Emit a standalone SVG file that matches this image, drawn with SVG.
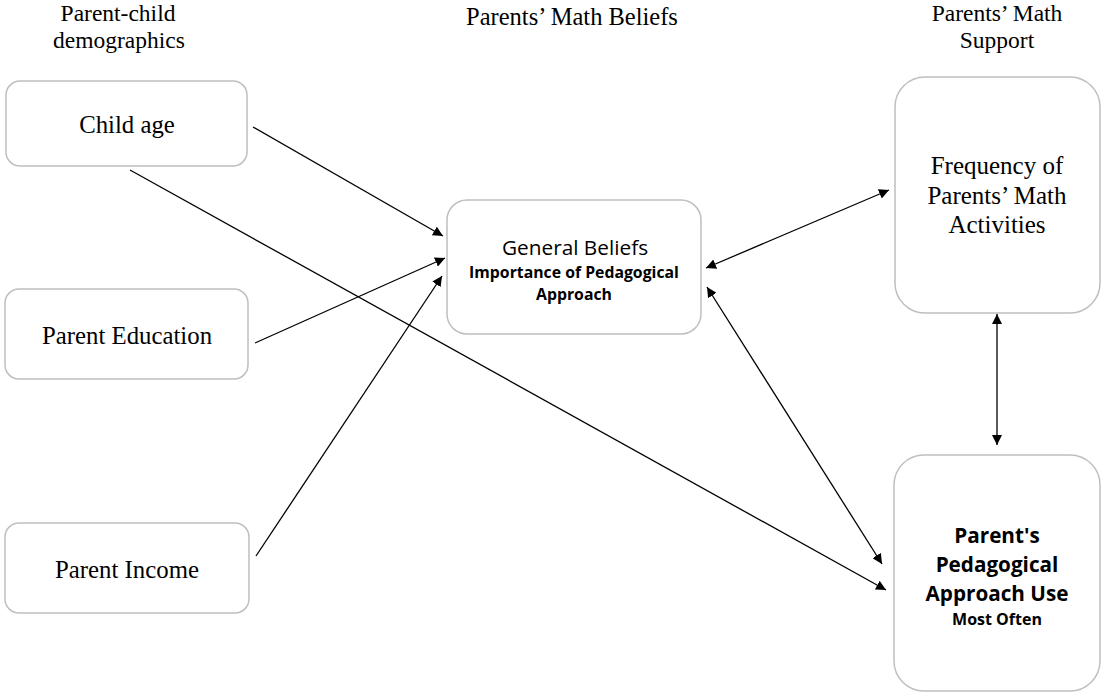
<svg xmlns="http://www.w3.org/2000/svg" width="1102" height="698" viewBox="0 0 1102 698">
<style>
.box{fill:#fff;stroke:#bfbfbf;stroke-width:1.5}
.serif{font-family:"Liberation Serif","Times New Roman",serif;fill:#000;text-anchor:middle}
.sans{font-family:"Open Sans","Liberation Sans",sans-serif;fill:#000;text-anchor:middle}
.b{font-weight:bold}
.c{stroke:#000;stroke-width:1.3;fill:none}
.t{font-size:23.5px}
</style>
<defs>
<marker id="ah" viewBox="0 0 10 10" refX="10" refY="5" markerWidth="10" markerHeight="10" markerUnits="userSpaceOnUse" orient="auto-start-reverse">
<path d="M0,0 L10,5 L0,10 z" fill="#000"/>
</marker>
</defs>
<rect width="1102" height="698" fill="#fff"/>
<g id="titles">
<text class="serif t" x="118" y="21">Parent-child</text>
<text class="serif t" x="119" y="48">demographics</text>
<text class="serif" font-size="24.5" x="572" y="25">Parents’ Math Beliefs</text>
<text class="serif t" x="997" y="21">Parents’ Math</text>
<text class="serif t" x="997" y="48">Support</text>
</g>
<g id="child-age">
<rect class="box" x="6" y="81" width="241" height="85" rx="14"/>
<text class="serif" font-size="24.8" x="127" y="133">Child age</text>
</g>
<g id="parent-education">
<rect class="box" x="5" y="289" width="243" height="90" rx="14"/>
<text class="serif" font-size="24.8" x="127" y="344">Parent Education</text>
</g>
<g id="parent-income">
<rect class="box" x="5" y="523" width="244" height="90" rx="14"/>
<text class="serif" font-size="24.8" x="127" y="578">Parent Income</text>
</g>
<g id="general-beliefs">
<rect class="box" x="447" y="200" width="254" height="134" rx="20"/>
<text class="sans" font-size="20.8" x="575" y="255">General Beliefs</text>
<text class="sans b" font-size="15.8" x="574" y="278">Importance of Pedagogical</text>
<text class="sans b" font-size="15.8" x="574" y="300">Approach</text>
</g>
<g id="frequency">
<rect class="box" x="895" y="77" width="205" height="236" rx="30"/>
<text class="serif" font-size="25" x="997" y="174">Frequency of</text>
<text class="serif" font-size="25" x="997" y="204">Parents’ Math</text>
<text class="serif" font-size="25" x="997" y="233">Activities</text>
</g>
<g id="pedagogical-approach">
<rect class="box" x="894" y="455" width="206" height="236" rx="30"/>
<text class="sans b" font-size="20.7" x="997" y="543">Parent's</text>
<text class="sans b" font-size="20.7" x="997" y="572">Pedagogical</text>
<text class="sans b" font-size="20.7" x="997" y="601">Approach Use</text>
<text class="sans b" font-size="16" x="997" y="625">Most Often</text>
</g>
<g id="connectors">
<line class="c" x1="253" y1="127" x2="443" y2="236" marker-end="url(#ah)"/>
<line class="c" x1="255" y1="343" x2="445" y2="258" marker-end="url(#ah)"/>
<line class="c" x1="256" y1="556" x2="442" y2="276" marker-end="url(#ah)"/>
<line class="c" x1="130" y1="170" x2="886" y2="590" marker-end="url(#ah)"/>
<line class="c" x1="706" y1="268" x2="889" y2="190" marker-start="url(#ah)" marker-end="url(#ah)"/>
<line class="c" x1="707" y1="287" x2="882" y2="564" marker-start="url(#ah)" marker-end="url(#ah)"/>
<line class="c" x1="997" y1="314" x2="997" y2="445" marker-start="url(#ah)" marker-end="url(#ah)"/>
</g>
</svg>
